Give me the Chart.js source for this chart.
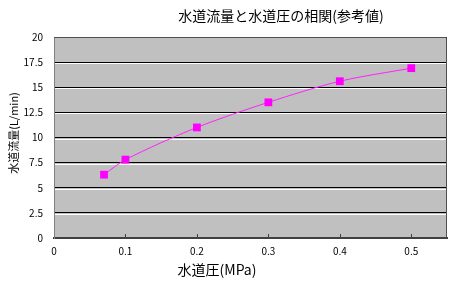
<!DOCTYPE html>
<html>
<head>
<meta charset="utf-8">
<script src="https://cdn.jsdelivr.net/npm/chart.js@4/dist/chart.umd.min.js"></script>
<style>
  html, body { margin: 0; padding: 0; background: #fff; }
  #wrap { width: 462px; height: 287px; }
</style>
</head>
<body>
<div id="wrap"><canvas id="myChart"></canvas></div>
<script>
const chartTitle = '水道流量と水道圧の相関(参考値)';
const xTitle = '水道圧(MPa)';
const yTitle = '水道流量(L/min)';

const pressure = [0.07, 0.1, 0.2, 0.3, 0.4, 0.5];
const flow = [6.3, 7.8, 11.0, 13.5, 15.6, 16.9];

const xTicks = [0, 0.1, 0.2, 0.3, 0.4, 0.5];
const yTicks = [0, 2.5, 5, 7.5, 10, 12.5, 15, 17.5, 20];

const jpFont = '"Noto Sans CJK JP", "DejaVu Sans", sans-serif';

// grey plot area, 3d-ish grid lines, frame, tick marks and texts
const decor = {
    id: 'decor',
    beforeDraw(chart) {
        const { ctx, chartArea: a } = chart;
        ctx.save();
        ctx.fillStyle = '#c0c0c0';
        ctx.fillRect(a.left, a.top, a.right - a.left, a.bottom - a.top);
        ctx.restore();
    },
    beforeDatasetsDraw(chart) {
        const { ctx, chartArea: a, scales } = chart;
        ctx.save();
        // white line under each black grid line
        ctx.strokeStyle = '#ffffff';
        ctx.lineWidth = 1;
        yTicks.forEach(v => {
            if (v === 0 || v === 20) return;
            const y = Math.round(scales.y.getPixelForValue(v)) + 1.5;
            ctx.beginPath();
            ctx.moveTo(a.left + 1, y);
            ctx.lineTo(a.right, y);
            ctx.stroke();
        });
        // frame top / right
        ctx.strokeStyle = '#505050';
        ctx.beginPath();
        ctx.moveTo(a.left, a.top + 0.5);
        ctx.lineTo(a.right - 0.5, a.top + 0.5);
        ctx.lineTo(a.right - 0.5, a.bottom);
        ctx.stroke();
        // x tick marks inside the plot
        ctx.strokeStyle = '#404040';
        xTicks.forEach(v => {
            if (v === 0) return;
            const x = Math.round(scales.x.getPixelForValue(v)) + 0.5;
            ctx.beginPath();
            ctx.moveTo(x, a.bottom);
            ctx.lineTo(x, a.bottom - 4);
            ctx.stroke();
        });
        ctx.restore();
    },
    afterDraw(chart) {
        const { ctx } = chart;
        ctx.save();
        ctx.fillStyle = '#000';
        ctx.textAlign = 'center';
        ctx.textBaseline = 'middle';
        ctx.font = '14px ' + jpFont;
        ctx.fillText(chartTitle, 281, 16);
        ctx.font = '14px ' + jpFont;
        ctx.fillText(xTitle, 217, 270);
        ctx.translate(14, 133);
        ctx.rotate(-Math.PI / 2);
        ctx.font = '11px ' + jpFont;
        ctx.fillText(yTitle, 0, 0);
        ctx.restore();
    }
};

const ctx = document.getElementById('myChart');
new Chart(ctx, {
    type: 'line',
    data: {
        datasets: [{
            label: yTitle,
            data: pressure.map((p, i) => ({ x: p, y: flow[i] })),
            borderColor: '#ff22ff',
            borderWidth: 1,
            tension: 0.3,
            pointStyle: 'rect',
            pointRadius: 5.5,
            pointHoverRadius: 5.5,
            pointBackgroundColor: '#ff00ff',
            pointBorderColor: '#ff00ff',
            pointBorderWidth: 0
        }]
    },
    options: {
        responsive: true,
        maintainAspectRatio: false,
        animation: false,
        events: [],
        layout: { padding: { top: 37, right: 15, left: 0, bottom: 0 } },
        plugins: {
            legend: { display: false },
            title: { display: false },
            tooltip: { enabled: false }
        },
        scales: {
            x: {
                type: 'linear',
                min: 0,
                max: 0.55,
                afterBuildTicks: s => { s.ticks = xTicks.map(v => ({ value: v })); },
                afterFit: s => { s.height = 49; },
                grid: { display: false, drawTicks: false },
                border: { display: true, color: '#404040', width: 2 },
                ticks: {
                    color: '#000',
                    padding: 7,
                    maxRotation: 0,
                    font: { family: jpFont, size: 10 },
                    callback: v => String(v)
                }
            },
            y: {
                min: 0,
                max: 20,
                afterBuildTicks: s => { s.ticks = yTicks.map(v => ({ value: v })); },
                afterFit: s => { s.width = 54; },
                grid: { color: '#000', lineWidth: 1, drawTicks: false },
                border: { display: true, color: '#808080', width: 1 },
                ticks: {
                    color: '#000',
                    padding: 11,
                    font: { family: jpFont, size: 10 },
                    callback: v => String(v)
                }
            }
        }
    },
    plugins: [decor]
});
</script>
</body>
</html>
